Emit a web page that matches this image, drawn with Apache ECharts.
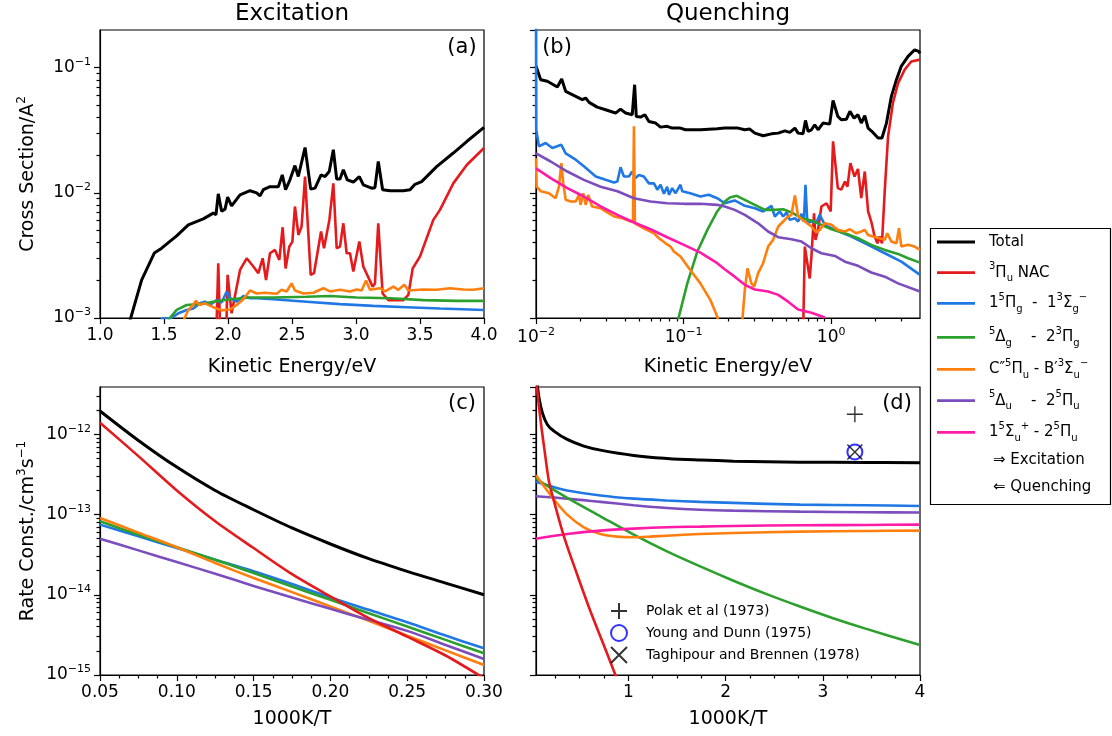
<!DOCTYPE html>
<html>
<head>
<meta charset="utf-8">
<script src="https://cdn.jsdelivr.net/npm/echarts@6/dist/echarts.min.js"></script>
<style>
  html, body { margin: 0; padding: 0; background: #fff; }
  #chart { width: 1112px; height: 736px; }
</style>
</head>
<body>
<div id="chart"></div>
<script>
// ---- (a) excitation cross sections: [kinetic energy eV, cross section A^2]
const excTotal = [[1.22, 8.5e-4], [1.24, 1.0e-3], [1.325, 2.01e-3], [1.424, 3.30e-3], [1.482, 3.61e-3], [1.534, 4.00e-3], [1.599, 4.53e-3], [1.69, 5.55e-3], [1.807, 6.19e-3], [1.885, 6.89e-3], [1.906, 6.67e-3], [1.924, 9.82e-3], [1.95, 7.13e-3], [1.977, 7.41e-3], [1.997, 9.25e-3], [2.028, 7.87e-3], [2.094, 9.64e-3], [2.172, 1.04e-2], [2.224, 1.00e-2], [2.25, 9.46e-3], [2.276, 1.06e-2], [2.328, 1.12e-2], [2.393, 1.12e-2], [2.424, 1.39e-2], [2.45, 1.06e-2], [2.484, 1.27e-2], [2.523, 1.65e-2], [2.549, 1.35e-2], [2.602, 2.30e-2], [2.646, 1.07e-2], [2.68, 1.09e-2], [2.727, 1.39e-2], [2.758, 1.35e-2], [2.791, 1.48e-2], [2.823, 2.21e-2], [2.849, 1.29e-2], [2.875, 1.29e-2], [2.901, 1.53e-2], [2.932, 1.27e-2], [2.979, 1.22e-2], [3.026, 1.35e-2], [3.057, 1.16e-2], [3.122, 1.09e-2], [3.148, 1.10e-2], [3.174, 1.78e-2], [3.208, 1.06e-2], [3.266, 1.04e-2], [3.37, 1.04e-2], [3.422, 1.06e-2], [3.461, 1.17e-2], [3.513, 1.23e-2], [3.63, 1.62e-2], [3.76, 2.08e-2], [3.865, 2.57e-2], [4.0, 3.33e-2]];
const excNac = [[1.908, 7e-4], [1.924, 2.74e-3], [1.94, 7e-4], [1.985, 7e-4], [1.997, 2.21e-3], [2.028, 1.09e-3], [2.094, 2.42e-3], [2.146, 3.0e-3], [2.198, 2.58e-3], [2.237, 2.28e-3], [2.271, 3.0e-3], [2.297, 2.01e-3], [2.328, 3.29e-3], [2.367, 3.50e-3], [2.401, 2.91e-3], [2.427, 5.31e-3], [2.45, 2.49e-3], [2.479, 3.72e-3], [2.503, 4.08e-3], [2.523, 7.78e-3], [2.55, 4.61e-3], [2.575, 5.38e-3], [2.602, 1.35e-2], [2.646, 2.21e-3], [2.672, 2.28e-3], [2.727, 4.91e-3], [2.75, 3.61e-3], [2.792, 6.08e-3], [2.823, 1.19e-2], [2.849, 3.61e-3], [2.875, 3.72e-3], [2.901, 5.71e-3], [2.927, 3.29e-3], [2.953, 3.29e-3], [2.979, 2.35e-3], [3.026, 4.08e-3], [3.057, 2.58e-3], [3.13, 1.78e-3], [3.148, 1.89e-3], [3.174, 5.71e-3], [3.208, 1.57e-3], [3.253, 1.39e-3], [3.37, 1.39e-3], [3.409, 1.53e-3], [3.443, 2.49e-3], [3.5, 3.10e-3], [3.604, 6.08e-3], [3.656, 7.31e-3], [3.76, 1.19e-2], [3.865, 1.67e-2], [4.0, 2.28e-2]];
const excPig = [[1.47, 8e-4], [1.482, 9.9e-4], [1.547, 9.9e-4], [1.612, 1.09e-3], [1.677, 1.16e-3], [1.729, 1.19e-3], [1.781, 1.31e-3], [1.82, 1.35e-3], [1.859, 1.27e-3], [1.911, 1.39e-3], [1.95, 1.33e-3], [1.99, 1.63e-3], [2.016, 1.44e-3], [2.068, 1.35e-3], [2.12, 1.50e-3], [2.172, 1.44e-3], [2.224, 1.44e-3], [2.354, 1.41e-3], [2.615, 1.35e-3], [2.875, 1.29e-3], [3.135, 1.25e-3], [3.396, 1.22e-3], [3.656, 1.19e-3], [4.0, 1.16e-3]];
const excDg = [[1.53, 8e-4], [1.542, 9.9e-4], [1.599, 1.16e-3], [1.677, 1.27e-3], [1.781, 1.29e-3], [1.885, 1.35e-3], [2.016, 1.41e-3], [2.172, 1.46e-3], [2.354, 1.46e-3], [2.615, 1.48e-3], [2.797, 1.50e-3], [3.005, 1.46e-3], [3.266, 1.44e-3], [3.526, 1.39e-3], [3.786, 1.37e-3], [4.0, 1.37e-3]];
const excCpu = [[1.65, 8e-4], [1.659, 9.9e-4], [1.69, 1.16e-3], [1.716, 1.23e-3], [1.75, 1.37e-3], [1.776, 1.27e-3], [1.82, 1.31e-3], [1.885, 1.22e-3], [1.95, 1.15e-3], [2.016, 1.17e-3], [2.068, 1.27e-3], [2.12, 1.41e-3], [2.172, 1.66e-3], [2.224, 1.57e-3], [2.289, 1.59e-3], [2.38, 1.56e-3], [2.419, 1.68e-3], [2.458, 1.63e-3], [2.497, 1.89e-3], [2.523, 1.66e-3], [2.589, 1.57e-3], [2.667, 1.59e-3], [2.745, 1.73e-3], [2.797, 1.63e-3], [2.875, 1.68e-3], [2.953, 1.63e-3], [3.005, 1.69e-3], [3.044, 1.66e-3], [3.078, 1.99e-3], [3.109, 1.68e-3], [3.187, 1.73e-3], [3.227, 1.63e-3], [3.292, 1.78e-3], [3.331, 1.68e-3], [3.378, 1.84e-3], [3.409, 1.66e-3], [3.526, 1.69e-3], [3.63, 1.68e-3], [3.734, 1.73e-3], [3.838, 1.69e-3], [3.917, 1.68e-3], [4.0, 1.73e-3]];

// ---- (b) quenching cross sections
const queTotal = [[0.01, 0.103], [0.01076, 8.02e-2], [0.01194, 7.78e-2], [0.01396, 7.00e-2], [0.01493, 8.11e-2], [0.01589, 6.47e-2], [0.01858, 5.90e-2], [0.0206, 5.55e-2], [0.0217, 5.72e-2], [0.0229, 5.28e-2], [0.026, 4.84e-2], [0.0296, 4.61e-2], [0.0346, 4.34e-2], [0.0374, 4.67e-2], [0.0405, 4.34e-2], [0.0449, 4.21e-2], [0.0466, 7.31e-2], [0.0478, 4.08e-2], [0.0511, 4.03e-2], [0.0547, 4.21e-2], [0.0582, 3.72e-2], [0.0646, 3.61e-2], [0.0698, 3.35e-2], [0.0774, 3.40e-2], [0.0837, 3.29e-2], [0.0953, 3.29e-2], [0.103, 3.19e-2], [0.13, 3.19e-2], [0.169, 3.25e-2], [0.19, 3.29e-2], [0.234, 3.29e-2], [0.26, 3.19e-2], [0.281, 3.23e-2], [0.304, 3.00e-2], [0.346, 2.86e-2], [0.394, 2.96e-2], [0.438, 3.00e-2], [0.486, 3.13e-2], [0.525, 3.04e-2], [0.568, 3.29e-2], [0.597, 3.00e-2], [0.645, 2.96e-2], [0.67, 3.79e-2], [0.698, 3.10e-2], [0.735, 3.19e-2], [0.774, 3.50e-2], [0.815, 3.19e-2], [0.881, 3.61e-2], [0.977, 3.54e-2], [1.03, 5.48e-2], [1.11, 4.08e-2], [1.17, 3.84e-2], [1.27, 3.88e-2], [1.34, 4.48e-2], [1.43, 3.95e-2], [1.52, 4.21e-2], [1.6, 3.61e-2], [1.69, 4.13e-2], [1.78, 3.29e-2], [1.92, 3.04e-2], [2.08, 2.74e-2], [2.21, 2.74e-2], [2.37, 3.61e-2], [2.56, 5.90e-2], [2.77, 8.02e-2], [2.99, 0.103], [3.32, 0.123], [3.68, 0.139], [3.92, 0.135], [4.0, 0.130]];
const queNac = [[0.645, 7e-4], [0.663, 3.72e-3], [0.69, 2.74e-3], [0.716, 2.07e-3], [0.735, 3.10e-3], [0.766, 6.87e-3], [0.783, 4.21e-3], [0.815, 5.06e-3], [0.859, 7.78e-3], [0.929, 8.26e-3], [0.993, 7.10e-3], [1.03, 2.58e-2], [1.11, 1.09e-2], [1.17, 1.06e-2], [1.24, 1.23e-2], [1.29, 1.12e-2], [1.35, 1.73e-2], [1.44, 1.35e-2], [1.52, 1.55e-2], [1.6, 9.06e-3], [1.69, 1.48e-2], [1.78, 7.10e-3], [1.87, 5.90e-3], [1.97, 4.48e-3], [2.06, 3.95e-3], [2.13, 4.48e-3], [2.21, 3.95e-3], [2.31, 1.06e-2], [2.43, 2.82e-2], [2.62, 5.21e-2], [2.84, 7.53e-2], [3.15, 9.64e-2], [3.49, 0.112], [4.0, 0.116]];
const quePig = [[0.01, 0.25], [0.01003, 3.19e-2], [0.01047, 2.35e-2], [0.01161, 2.50e-2], [0.0129, 2.28e-2], [0.01485, 2.42e-2], [0.01589, 2.07e-2], [0.01858, 1.84e-2], [0.0211, 1.63e-2], [0.0254, 1.35e-2], [0.0296, 1.27e-2], [0.0338, 1.21e-2], [0.0356, 1.23e-2], [0.0374, 1.60e-2], [0.0394, 1.35e-2], [0.0426, 1.35e-2], [0.0449, 1.48e-2], [0.0473, 1.31e-2], [0.0498, 1.39e-2], [0.0538, 1.35e-2], [0.0582, 1.19e-2], [0.063, 1.19e-2], [0.0664, 1.06e-2], [0.0698, 1.16e-2], [0.0736, 9.82e-3], [0.0774, 1.12e-2], [0.0796, 9.64e-3], [0.0837, 1.09e-2], [0.0883, 9.93e-3], [0.0953, 1.16e-2], [0.0979, 1.03e-2], [0.111, 9.93e-3], [0.13, 9.35e-3], [0.148, 9.64e-3], [0.169, 9.06e-3], [0.19, 8.26e-3], [0.222, 8.69e-3], [0.26, 7.87e-3], [0.304, 7.54e-3], [0.346, 7.10e-3], [0.394, 7.87e-3], [0.415, 6.47e-3], [0.449, 7.10e-3], [0.473, 6.47e-3], [0.498, 6.97e-3], [0.525, 6.08e-3], [0.568, 6.27e-3], [0.597, 5.90e-3], [0.63, 6.79e-3], [0.653, 5.90e-3], [0.67, 1.16e-2], [0.69, 5.71e-3], [0.735, 5.90e-3], [0.794, 5.79e-3], [0.837, 6.67e-3], [0.906, 5.55e-3], [1.06, 5.06e-3], [1.37, 4.48e-3], [1.78, 3.84e-3], [2.31, 3.29e-3], [2.99, 2.82e-3], [4.0, 2.21e-3]];
const queDg = [[0.0879, 8e-4], [0.0916, 9.6e-4], [0.106, 1.89e-3], [0.124, 3.40e-3], [0.145, 5.06e-3], [0.169, 7.10e-3], [0.19, 8.53e-3], [0.206, 9.18e-3], [0.229, 9.46e-3], [0.26, 8.79e-3], [0.304, 8.02e-3], [0.356, 7.31e-3], [0.415, 7.31e-3], [0.473, 7.40e-3], [0.538, 6.97e-3], [0.63, 6.27e-3], [0.735, 6.01e-3], [0.859, 5.55e-3], [1.005, 5.12e-3], [1.24, 4.75e-3], [1.52, 4.34e-3], [1.87, 3.84e-3], [2.31, 3.50e-3], [2.84, 3.25e-3], [3.32, 3.00e-3], [4.0, 2.77e-3]];
const queCpu = [[0.01, 1.89e-2], [0.0101, 1.12e-2], [0.01076, 1.03e-2], [0.01225, 9.93e-3], [0.01358, 9.06e-3], [0.01431, 1.12e-2], [0.01485, 1.73e-2], [0.0153, 1.19e-2], [0.01589, 8.79e-3], [0.01718, 8.53e-3], [0.01858, 8.53e-3], [0.01955, 9.64e-3], [0.02004, 8.02e-3], [0.0209, 9.93e-3], [0.0217, 8.02e-3], [0.0226, 9.64e-3], [0.024, 7.78e-3], [0.0274, 7.54e-3], [0.0296, 7.10e-3], [0.0338, 6.47e-3], [0.0385, 6.27e-3], [0.0438, 5.90e-3], [0.0454, 5.90e-3], [0.0461, 3.40e-2], [0.0468, 5.71e-3], [0.0538, 5.21e-3], [0.063, 4.75e-3], [0.0681, 4.34e-3], [0.0755, 3.95e-3], [0.0817, 3.72e-3], [0.0859, 3.40e-3], [0.0953, 3.10e-3], [0.111, 2.42e-3], [0.13, 1.89e-3], [0.152, 1.39e-3], [0.169, 1.03e-3], [0.178, 8e-4], [0.247, 8e-4], [0.26, 1.68e-3], [0.271, 2.49e-3], [0.288, 1.89e-3], [0.301, 1.78e-3], [0.32, 2.28e-3], [0.346, 2.74e-3], [0.374, 3.72e-3], [0.404, 4.21e-3], [0.438, 5.38e-3], [0.473, 5.90e-3], [0.511, 6.47e-3], [0.538, 6.67e-3], [0.568, 9.53e-3], [0.597, 6.47e-3], [0.663, 5.90e-3], [0.735, 5.38e-3], [0.794, 4.82e-3], [0.837, 5.06e-3], [0.906, 5.71e-3], [1.005, 5.55e-3], [1.11, 5.06e-3], [1.24, 4.91e-3], [1.34, 5.12e-3], [1.48, 4.75e-3], [1.6, 4.91e-3], [1.69, 5.06e-3], [1.78, 4.61e-3], [1.92, 4.48e-3], [2.13, 4.34e-3], [2.31, 4.21e-3], [2.4, 4.75e-3], [2.56, 4.08e-3], [2.77, 3.95e-3], [2.88, 5.21e-3], [2.99, 3.72e-3], [3.32, 3.84e-3], [3.68, 3.72e-3], [4.0, 3.50e-3]];
const queDu = [[0.01, 2.07e-2], [0.01257, 1.78e-2], [0.0163, 1.48e-2], [0.0211, 1.27e-2], [0.0274, 1.12e-2], [0.0356, 1.03e-2], [0.0461, 9.06e-3], [0.0597, 8.53e-3], [0.0774, 8.26e-3], [0.1005, 8.17e-3], [0.13, 8.17e-3], [0.169, 8.02e-3], [0.19, 7.78e-3], [0.222, 7.31e-3], [0.26, 6.67e-3], [0.32, 5.71e-3], [0.374, 4.91e-3], [0.438, 4.42e-3], [0.538, 4.26e-3], [0.63, 4.08e-3], [0.735, 3.61e-3], [0.859, 3.29e-3], [1.06, 3.13e-3], [1.24, 2.82e-3], [1.52, 2.61e-3], [1.87, 2.31e-3], [2.31, 2.14e-3], [2.84, 1.89e-3], [4.0, 1.63e-3]];
const queSu = [[0.01, 1.57e-2], [0.01257, 1.31e-2], [0.0163, 1.09e-2], [0.0211, 9.35e-3], [0.0274, 7.78e-3], [0.0356, 6.67e-3], [0.0461, 5.79e-3], [0.0597, 5.12e-3], [0.0774, 4.42e-3], [0.1005, 3.84e-3], [0.13, 3.33e-3], [0.169, 2.74e-3], [0.19, 2.45e-3], [0.222, 2.14e-3], [0.26, 1.84e-3], [0.304, 1.69e-3], [0.374, 1.63e-3], [0.438, 1.53e-3], [0.511, 1.35e-3], [0.597, 1.17e-3], [0.735, 1.10e-3], [0.906, 1.01e-3]];

// ---- (c) excitation rate constants vs 1000K/T
const rateT = [0.05, 0.075, 0.1, 0.125, 0.15, 0.175, 0.2, 0.225, 0.25, 0.275, 0.3];
const rExcTotal = [1.96e-12, 8.41e-13, 3.91e-13, 2.0e-13, 1.15e-13, 6.81e-14, 4.30e-14, 2.82e-14, 1.96e-14, 1.40e-14, 1.0e-14];
const rExcNac = [1.40e-12, 5.36e-13, 2.0e-13, 8.26e-14, 3.83e-14, 1.81e-14, 9.53e-15, 5.11e-15, 3.01e-15, 1.75e-15, 9.1e-16];
const rExcPig = [7.50e-14, 5.36e-14, 3.83e-14, 2.74e-14, 1.96e-14, 1.36e-14, 9.27e-15, 6.49e-15, 4.55e-15, 3.10e-15, 2.15e-15];
const rExcDg = [8.26e-14, 5.62e-14, 3.91e-14, 2.74e-14, 1.87e-14, 1.27e-14, 8.65e-15, 5.90e-15, 4.02e-15, 2.74e-15, 1.87e-15];
const rExcCpu = [9.09e-14, 5.96e-14, 3.91e-14, 2.49e-14, 1.62e-14, 1.08e-14, 7.15e-15, 4.73e-15, 3.10e-15, 2.03e-15, 1.33e-15];
const rExcDu = [5.01e-14, 3.58e-14, 2.56e-14, 1.83e-14, 1.29e-14, 9.27e-15, 6.68e-15, 4.87e-15, 3.55e-15, 2.37e-15, 1.58e-15];

// ---- (d) quenching rate constants vs 1000K/T
const rQueTotal = [[0.06, 4.6e-12], [0.0808, 2.87e-12], [0.115, 1.87e-12], [0.166, 1.33e-12], [0.235, 1.10e-12], [0.371, 8.65e-13], [0.542, 7.15e-13], [0.713, 6.37e-13], [1.055, 5.46e-13], [1.397, 5.01e-13], [1.739, 4.78e-13], [2.081, 4.64e-13], [2.765, 4.51e-13], [3.448, 4.47e-13], [4.0, 4.43e-13]];
const rQueNac = [[0.05, 6e-12], [0.057, 4.22e-12], [0.098, 1.47e-12], [0.139, 6.19e-13], [0.183, 2.61e-13], [0.235, 1.47e-13], [0.337, 5.36e-14], [0.474, 1.78e-14], [0.611, 6.19e-15], [0.747, 2.37e-15], [0.867, 1.0e-15], [0.918, 6.8e-16]];
const rQuePig = [[0.05, 2.56e-13], [0.2, 2.26e-13], [0.371, 2.0e-13], [0.713, 1.73e-13], [1.055, 1.58e-13], [1.397, 1.50e-13], [1.739, 1.44e-13], [2.081, 1.40e-13], [2.765, 1.33e-13], [3.448, 1.31e-13], [4.0, 1.28e-13]];
const rQueDg = [[0.05, 2.82e-13], [0.2, 2.15e-13], [0.371, 1.62e-13], [0.713, 9.53e-14], [1.055, 5.62e-14], [1.397, 3.48e-14], [1.739, 2.26e-14], [2.081, 1.50e-14], [2.423, 1.02e-14], [2.765, 7.15e-15], [3.106, 5.11e-15], [3.448, 3.76e-15], [4.0, 2.37e-15]];
const rQueCpu = [[0.05, 3.10e-13], [0.132, 2.26e-13], [0.235, 1.54e-13], [0.371, 1.0e-13], [0.542, 6.95e-14], [0.713, 5.73e-14], [0.884, 5.31e-14], [1.055, 5.21e-14], [1.226, 5.31e-14], [1.397, 5.46e-14], [1.739, 5.73e-14], [2.081, 5.90e-14], [2.765, 6.13e-14], [3.448, 6.25e-14], [4.0, 6.31e-14]];
const rQueDu = [[0.05, 1.69e-13], [0.371, 1.58e-13], [0.713, 1.44e-13], [1.055, 1.31e-13], [1.397, 1.21e-13], [1.739, 1.15e-13], [2.081, 1.12e-13], [2.765, 1.09e-13], [3.448, 1.07e-13], [4.0, 1.06e-13]];
const rQueSu = [[0.05, 5.01e-14], [0.371, 5.73e-14], [0.713, 6.31e-14], [1.055, 6.68e-14], [1.397, 6.95e-14], [1.739, 7.08e-14], [2.081, 7.22e-14], [2.765, 7.36e-14], [3.448, 7.43e-14], [4.0, 7.50e-14]];

// experiments at room temperature
const expT = [3.33];
const polakK = [1.78e-12];
const youngK = [6.05e-13];
const taghK = [6.05e-13];

// axis ticks
const excTicks = [1, 4, 0.5];
const rateExcTicks = [0.05, 0.3, 0.05];
const rateQueLabels = [1, 2, 3, 4];

const FONT = 'DejaVu Sans';
const COL = {
  total: '#000000', nac: '#e41a1c', pig: '#1f78e4', dg: '#2ca02c',
  cpu: '#ff7f0e', du: '#7b4dbd', su: '#ff1aa8'
};

const chart = echarts.init(document.getElementById('chart'));

// minor tick positions of a log axis, returned as log10 values for a linear carrier axis
function minorLog10(lo, hi) {
  const out = [];
  for (let e = Math.floor(Math.log10(lo)); e <= Math.ceil(Math.log10(hi)); e++) {
    for (let m = 2; m <= 9; m++) {
      const v = m * Math.pow(10, e);
      if (v > lo * 1.0001 && v < hi * 0.9999) out.push(Math.log10(v));
    }
  }
  return out;
}
function quarterTicks(lo, hi) {
  const out = [];
  for (let v = 0.25; v < hi; v += 0.25) if (v > lo && Math.abs(v - Math.round(v)) > 1e-6) out.push(v);
  return out;
}
function powLabel(v) {
  const e = Math.log10(v);
  const r = Math.round(e);
  if (Math.abs(e - r) > 0.01) return '';
  return '{b|10}{e|' + (r < 0 ? '\u2212' + (-r) : r) + '}';
}
const powRich = {
  b: { fontSize: 17, fontFamily: FONT, color: '#000', lineHeight: 22 },
  e: { fontSize: 11, fontFamily: FONT, color: '#000', lineHeight: 12, verticalAlign: 'top' }
};
const blk = { color: '#000', width: 1.2 };
const nameStyle = {
  fontSize: 19, fontFamily: FONT, color: '#000', lineHeight: 24,
  rich: { s: { fontSize: 12, fontFamily: FONT, color: '#000', lineHeight: 13, verticalAlign: 'top' } }
};
const labelBase = { color: '#000', fontSize: 17, fontFamily: FONT, margin: 9 };

const grids = [
  { left: 100, top: 30, width: 384, height: 288 },
  { left: 536, top: 30, width: 384, height: 288 },
  { left: 100, top: 387, width: 384, height: 288 },
  { left: 536, top: 387, width: 384, height: 288 }
].map(g => Object.assign(g, { show: true, borderColor: '#000', borderWidth: 1.2, backgroundColor: '#fff', outerBoundsMode: 'none' }));

// tick-only carrier axis (no line, no labels) used for the short minor ticks
const minorAxis = (gridIndex, type, min, max, ticks) => ({
  gridIndex: gridIndex, type: type, min: min, max: max,
  axisLine: { show: false, onZero: false }, axisLabel: { show: false },
  axisTick: { customValues: ticks, length: 3.5, lineStyle: blk }
});

const xAxes = [
  { gridIndex: 0, type: 'value', min: excTicks[0], max: excTicks[1], interval: excTicks[2],
    axisLabel: Object.assign({ formatter: v => v.toFixed(1) }, labelBase),
    name: 'Kinetic Energy/eV', nameGap: 37 },
  { gridIndex: 1, type: 'log', min: 0.01, max: 4,
    axisLabel: Object.assign({ formatter: powLabel, rich: powRich, showMaxLabel: false }, labelBase),
    name: 'Kinetic Energy/eV', nameGap: 37 },
  { gridIndex: 2, type: 'value', min: rateExcTicks[0], max: rateExcTicks[1], interval: rateExcTicks[2],
    axisLabel: Object.assign({ formatter: v => v.toFixed(2) }, labelBase),
    minorTick: { show: true, splitNumber: 4, length: 3.5, lineStyle: blk },
    name: '1000K/T', nameGap: 32 },
  { gridIndex: 3, type: 'value', min: 0.05, max: 4,
    axisLabel: Object.assign({ customValues: rateQueLabels, formatter: v => String(v) }, labelBase),
    axisTick: { customValues: rateQueLabels, length: 6, lineStyle: blk },
    name: '1000K/T', nameGap: 32 },
  minorAxis(1, 'value', Math.log10(0.01), Math.log10(4), minorLog10(0.01, 4)),
  minorAxis(3, 'value', 0.05, 4, quarterTicks(0.05, 4))
].map(a => Object.assign({
  position: 'bottom', nameLocation: 'middle', nameTextStyle: nameStyle,
  axisLine: { onZero: false, lineStyle: blk },
  axisTick: { length: 6, lineStyle: blk },
  splitLine: { show: false }
}, a));

const yMain = [
  { gridIndex: 0, min: 0.001, max: 0.2, name: 'Cross Section/A{s|2}' },
  { gridIndex: 1, min: 0.001, max: 0.2, axisLabel: { show: false } },
  { gridIndex: 2, min: 1e-15, max: 3.9e-12, name: 'Rate Const./cm{s|3}s{s|\u22121}' },
  { gridIndex: 3, min: 1e-15, max: 3.9e-12, axisLabel: { show: false } }
];
const yAxes = yMain.map(a => {
  const base = {
    gridIndex: a.gridIndex, type: 'log', min: a.min, max: a.max, position: 'left',
    splitLine: { show: false },
    axisLine: { onZero: false, lineStyle: blk },
    axisTick: { length: 6, lineStyle: blk },
    axisLabel: a.axisLabel || Object.assign({ formatter: powLabel, rich: powRich, showMaxLabel: false }, labelBase)
  };
  if (a.name) {
    Object.assign(base, { name: a.name, nameLocation: 'middle', nameGap: 60, nameTextStyle: nameStyle });
  }
  return base;
}).concat(yMain.map(a => Object.assign(
  minorAxis(a.gridIndex, 'value', Math.log10(a.min), Math.log10(a.max), minorLog10(a.min, a.max)),
  { position: 'left', splitLine: { show: false } }
)));

function ln(name, data, idx, color, width, smooth) {
  return {
    name: name, type: 'line', xAxisIndex: idx, yAxisIndex: idx, data: data,
    symbol: 'none', showSymbol: false, smooth: smooth || false, clip: true,
    lineStyle: { color: color, width: width || 2.6 }, itemStyle: { color: color },
    emphasis: { disabled: true }, silent: true
  };
}
const zipT = arr => rateT.map((t, i) => [t, arr[i]]);

const series = [
  ln('Total', excTotal, 0, COL.total, 3),
  ln('NAC', excNac, 0, COL.nac),
  ln('pig', excPig, 0, COL.pig),
  ln('dg', excDg, 0, COL.dg),
  ln('cpu', excCpu, 0, COL.cpu),

  ln('Total', queTotal, 1, COL.total, 3),
  ln('NAC', queNac, 1, COL.nac),
  ln('pig', quePig, 1, COL.pig),
  ln('dg', queDg, 1, COL.dg),
  ln('cpu', queCpu, 1, COL.cpu),
  ln('du', queDu, 1, COL.du),
  ln('su', queSu, 1, COL.su),

  ln('Total', zipT(rExcTotal), 2, COL.total, 3, 0.3),
  ln('pig', zipT(rExcPig), 2, COL.pig, 2.6, 0.3),
  ln('dg', zipT(rExcDg), 2, COL.dg, 2.6, 0.3),
  ln('cpu', zipT(rExcCpu), 2, COL.cpu, 2.6, 0.3),
  ln('du', zipT(rExcDu), 2, COL.du, 2.6, 0.3),
  ln('NAC', zipT(rExcNac), 2, COL.nac, 2.6, 0.3),

  ln('Total', rQueTotal, 3, COL.total, 3, 0.4),
  ln('pig', rQuePig, 3, COL.pig, 2.6, 0.3),
  ln('du', rQueDu, 3, COL.du, 2.6, 0.3),
  ln('dg', rQueDg, 3, COL.dg, 2.6, 0.3),
  ln('cpu', rQueCpu, 3, COL.cpu, 2.6, 0.3),
  ln('su', rQueSu, 3, COL.su, 2.6, 0.3),
  ln('NAC', rQueNac, 3, COL.nac, 2.6, 0.3),

  { name: 'Polak et al (1973)', type: 'scatter', xAxisIndex: 3, yAxisIndex: 3,
    data: expT.map((t, i) => [t, polakK[i]]),
    symbol: 'path://M0,-1L0,1M-1,0L1,0', symbolSize: 16,
    itemStyle: { color: 'rgba(0,0,0,0)', borderColor: '#000', borderWidth: 1.4 } },
  { name: 'Young and Dunn (1975)', type: 'scatter', xAxisIndex: 3, yAxisIndex: 3,
    data: expT.map((t, i) => [t, youngK[i]]),
    symbol: 'emptyCircle', symbolSize: 15,
    itemStyle: { color: '#0000ff', borderColor: '#0000ff', borderWidth: 1.5 } },
  { name: 'Taghipour and Brennen (1978)', type: 'scatter', xAxisIndex: 3, yAxisIndex: 3,
    data: expT.map((t, i) => [t, taghK[i]]),
    symbol: 'path://M-1,-1L1,1M-1,1L1,-1', symbolSize: 15,
    itemStyle: { color: 'rgba(0,0,0,0)', borderColor: '#000', borderWidth: 1.4 } }
];

// main legend, drawn as graphic
const legendRows = [
  { color: COL.total, text: 'Total' },
  { color: COL.nac, text: '{sp|3}\u03a0{sb|u} NAC' },
  { color: COL.pig, text: '1{sp|5}\u03a0{sb|g}  -  1{sp|3}\u03a3{sb|g}{sp|\u2212}' },
  { color: COL.dg, text: '{sp|5}\u0394{sb|g}    -  2{sp|3}\u03a0{sb|g}' },
  { color: COL.cpu, text: 'C\u2033{sp|5}\u03a0{sb|u} - B\u2032{sp|3}\u03a3{sb|u}{sp|\u2212}' },
  { color: COL.du, text: '{sp|5}\u0394{sb|u}    -  2{sp|5}\u03a0{sb|u}' },
  { color: COL.su, text: '1{sp|5}\u03a3{sb|u}{sp|+} - 2{sp|5}\u03a0{sb|u}' },
  { color: null, text: '\u21d2 Excitation' },
  { color: null, text: '\u21d0 Quenching' }
];
const legendY = [242, 272.7, 303.3, 337.3, 369.3, 400.7, 432.3, 460, 486.7];
const legRich = {
  sp: { fontSize: 10, fontFamily: FONT, fill: '#000', lineHeight: 12, verticalAlign: 'top' },
  sb: { fontSize: 10, fontFamily: FONT, fill: '#000', lineHeight: 12, verticalAlign: 'bottom' }
};
const panelText = (txt, x, y, size) => ({
  type: 'text', x: x, y: y, z: 10,
  style: { text: txt, fontSize: size, fontFamily: FONT, fill: '#000', align: 'center', verticalAlign: 'middle' }
});
const graphics = [
  panelText('Excitation', 292, 14, 23),
  panelText('Quenching', 728, 14, 23),
  panelText('(a)', 462, 48, 21),
  panelText('(b)', 557, 48, 21),
  panelText('(c)', 462, 404, 21),
  panelText('(d)', 897, 404, 21),
  { type: 'rect', shape: { x: 930.5, y: 228.5, width: 180, height: 276 }, style: { fill: '#fff', stroke: '#000', lineWidth: 1.2 } }
];
legendRows.forEach((r, i) => {
  const y = legendY[i];
  if (r.color) {
    graphics.push({ type: 'line', shape: { x1: 937, y1: y, x2: 975, y2: y }, style: { stroke: r.color, lineWidth: 2.8 } });
  }
  graphics.push({
    type: 'text', x: r.color ? 989 : 993, y: y,
    style: { text: r.text, fontSize: 15, fontFamily: FONT, fill: '#000', lineHeight: 22, verticalAlign: 'middle', align: 'left', rich: legRich }
  });
});

chart.setOption({
  animation: false,
  backgroundColor: '#fff',
  grid: grids,
  xAxis: xAxes,
  yAxis: yAxes,
  legend: [{
    data: ['Polak et al (1973)', 'Young and Dunn (1975)', 'Taghipour and Brennen (1978)'],
    orient: 'vertical', left: 605, top: 597, itemWidth: 16, itemHeight: 16, itemGap: 4,
    selectedMode: false,
    textStyle: { fontSize: 14, fontFamily: FONT, color: '#000', lineHeight: 16, padding: [0, 0, 0, 14] }
  }],
  graphic: graphics,
  series: series
});
</script>
</body>
</html>
